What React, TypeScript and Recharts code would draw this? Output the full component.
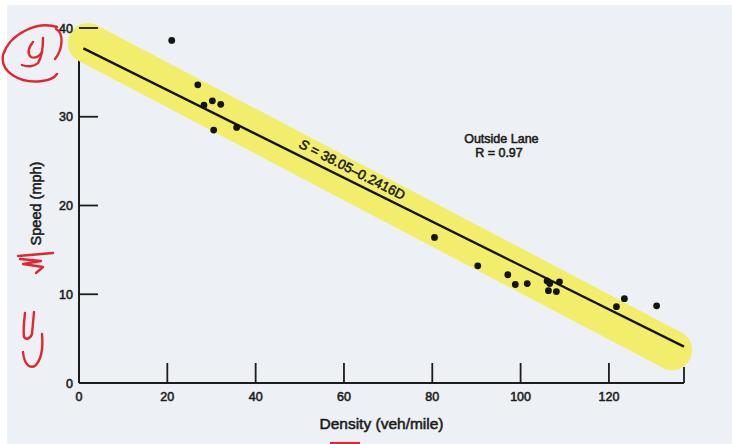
import React from "react";
import { ComposedChart, Scatter, XAxis, YAxis, ReferenceDot, ReferenceLine, Label } from "recharts";

// Observed points (density veh/mile, speed mph)
const densityObs = [21.0, 26.9, 28.3, 30.2, 32.1, 30.5, 35.7, 80.5, 90.3, 97.1, 98.8, 101.5, 106.0, 106.6, 106.3, 108.1, 108.8, 121.7, 123.5, 130.8];
const speedObs = [38.6, 33.6, 31.3, 31.8, 31.4, 28.5, 28.8, 16.4, 13.2, 12.2, 11.1, 11.2, 11.5, 11.2, 10.4, 10.3, 11.4, 8.6, 9.5, 8.7];

// Fitted line S = 38.05 - 0.2416D as drawn
const fitDensity = [1, 137];
const fitSpeed = [37.7, 4.1];

// Highlighter band
const bandDensity = [2, 134.3];
const bandSpeed = [38.3, 3.7];

const xTicks = [0, 20, 40, 60, 80, 100, 120, 137];
const xTickLabels = ["0", "20", "40", "60", "80", "100", "120", ""];
const yTicks = [0, 10, 20, 30, 40];
const yTickLabels = ["0", "10", "20", "30", "40"];

const equationPos = { D: 61.8, S: 24.0 };
const notePos = { D: 91.3, S: 27.0 };

const points = densityObs.map((d, i) => ({ D: d, S: speedObs[i] }));
const fitData = fitDensity.map((d, i) => ({ D: d, S: fitSpeed[i] }));
const bandData = bandDensity.map((d, i) => ({ D: d, S: bandSpeed[i] }));

const FONT = "'Liberation Sans', Arial, Helvetica, sans-serif";
const INK = "#1c1c1c";
const RED = "#e3262c";
const YELLOW = "#f2ee6c";
const TXT_STROKE = 0.55;

const XTick = (props: any) => {
  const { x, y, payload } = props;
  const idx = xTicks.indexOf(payload.value);
  const label = idx >= 0 ? xTickLabels[idx] : "";
  const len = payload.value === 137 ? 16 : payload.value === 0 ? 0 : 20;
  return (
    <g>
      {len > 0 && <line x1={x} y1={y} x2={x} y2={y - len} stroke={INK} strokeWidth={1.8} />}
      {label && (
        <text x={x} y={y + 17.5} textAnchor="middle" fontFamily={FONT} fontSize={12.5} fill={INK} stroke={INK} strokeWidth={TXT_STROKE}>
          {label}
        </text>
      )}
    </g>
  );
};

const YTick = (props: any) => {
  const { x, y, payload } = props;
  const idx = yTicks.indexOf(payload.value);
  const label = idx >= 0 ? yTickLabels[idx] : "";
  return (
    <g>
      {payload.value !== 0 && <line x1={x} y1={y} x2={x + 19} y2={y} stroke={INK} strokeWidth={1.8} />}
      <text x={x - 6} y={y + 4.5} textAnchor="end" fontFamily={FONT} fontSize={12.5} fill={INK} stroke={INK} strokeWidth={TXT_STROKE}>
        {label}
      </text>
    </g>
  );
};

const Dot = (props: any) => <circle cx={props.cx} cy={props.cy} r={3.4} fill="#141414" />;
const BandCap = (props: any) => <circle cx={props.cx} cy={props.cy} r={20} fill={YELLOW} stroke="none" />;
const NoShape = () => <g />;

const EquationLabel = (props: any) => {
  const { viewBox } = props;
  const cx = viewBox.x + (viewBox.width || 0) / 2;
  const cy = viewBox.y + (viewBox.height || 0) / 2;
  return (
    <text
      x={cx}
      y={cy}
      textAnchor="middle"
      dominantBaseline="middle"
      transform={`rotate(27, ${cx}, ${cy})`}
      fontFamily={FONT}
      fontSize={13.5}
      fill={INK}
      stroke={INK}
      strokeWidth={TXT_STROKE}
    >
      <tspan fontStyle="italic">S</tspan>
      <tspan> = 38.05–0.2416D</tspan>
    </text>
  );
};

const NoteLabel = (props: any) => {
  const { viewBox } = props;
  const cx = viewBox.x + (viewBox.width || 0) / 2;
  const cy = viewBox.y + (viewBox.height || 0) / 2;
  return (
    <g fontFamily={FONT} fontSize={12.5} fill={INK} stroke={INK} strokeWidth={TXT_STROKE}>
      <text x={cx - 18} y={cy}>Outside Lane</text>
      <text x={cx - 7} y={cy + 14}>R = 0.97</text>
    </g>
  );
};

export default function App() {
  return (
    <div style={{ position: "absolute", left: 0, top: 0, width: 732, height: 444, background: "#ffffff", overflow: "hidden" }}>
      <div style={{ position: "absolute", left: 7, top: 5, width: 725, height: 439, background: "#edf0f4" }} />
      <div style={{ position: "absolute", left: 0, top: 0 }}>
        <ComposedChart width={732} height={444} margin={{ top: 28, right: 48, bottom: 0, left: 0 }}>
          <XAxis
            type="number"
            dataKey="D"
            domain={[0, 137]}
            ticks={xTicks}
            interval={0}
            tickSize={0}
            tickMargin={0}
            tickLine={false}
            tick={<XTick />}
            axisLine={{ stroke: INK, strokeWidth: 2 }}
            height={61}
          >
            <Label
              value="Density (veh/mile)"
              position="center"
              dy={10}
              style={{ fontFamily: FONT, fontSize: 15.5, fill: INK, stroke: INK, strokeWidth: TXT_STROKE }}
            />
          </XAxis>
          <YAxis
            type="number"
            dataKey="S"
            domain={[0, 40]}
            ticks={yTicks}
            interval={0}
            tickSize={0}
            tickMargin={0}
            tickLine={false}
            tick={<YTick />}
            axisLine={{ stroke: INK, strokeWidth: 2 }}
            width={79}
          >
            <Label
              value="Speed (mph)"
              angle={-90}
              position="center"
              dx={-4}
              dy={-2}
              style={{ fontFamily: FONT, fontSize: 14.5, fill: INK, stroke: INK, strokeWidth: TXT_STROKE, textAnchor: "middle" }}
            />
          </YAxis>
          <Scatter
            data={bandData}
            dataKey="S"
            line={{ stroke: YELLOW, strokeWidth: 40 }}
            shape={<BandCap />}
            isAnimationActive={false}
          />
          <ReferenceLine x={0} stroke={INK} strokeWidth={2} />
          <ReferenceLine segment={[{ x: 0, y: 40 }, { x: 4.3, y: 40 }]} stroke={INK} strokeWidth={1.8} />
          <Scatter
            data={fitData}
            dataKey="S"
            line={{ stroke: "#151515", strokeWidth: 2.4 }}
            shape={<NoShape />}
            isAnimationActive={false}
          />
          <Scatter data={points} dataKey="S" shape={<Dot />} isAnimationActive={false} />
          <ReferenceDot x={equationPos.D} y={equationPos.S} r={0} fill="none" stroke="none" label={<EquationLabel />} />
          <ReferenceDot x={notePos.D} y={notePos.S} r={0} fill="none" stroke="none" label={<NoteLabel />} />
        </ComposedChart>
      </div>
      <svg width={732} height={444} style={{ position: "absolute", left: 0, top: 0, pointerEvents: "none" }}>
        <g fill="none" stroke={RED} strokeWidth={2.4} strokeLinecap="round" strokeLinejoin="round">
          <path d="M57 27 C38 21, 10 33, 3 55 C0 72, 20 84, 42 81 C51 80, 55 77, 57 74" />
          <path d="M56 29 C64 33, 63 49, 55 59" />
          <path d="M33 42 C29 47, 27 53, 31 57 C35 59, 40 56, 42 52" />
          <path d="M43 38 C43 48, 42 57, 38 63 C34 67, 27 67, 22 65" />
          <path d="M18 256 L53 253" />
          <path d="M20 259 L41 261 L23 264 L43 267 L36 273" />
          <path d="M25 313 C24 322, 23 330, 24 337 C26 340, 30 339, 32 334 L34 312" />
          <path d="M42 334 C43 345, 42 358, 36 365 C30 370, 24 364, 23 352" />
        </g>
        <rect x={330} y={442} width={30} height={3} fill={RED} />
      </svg>
    </div>
  );
}
